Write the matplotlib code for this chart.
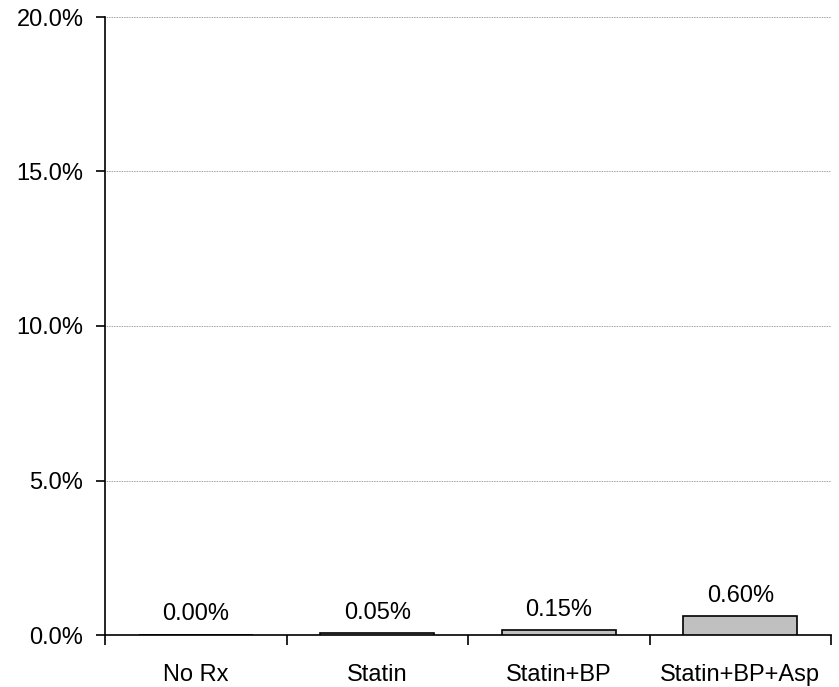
import matplotlib
matplotlib.use("Agg")
import matplotlib.pyplot as plt
from matplotlib.ticker import FixedLocator, NullFormatter

plt.rcParams['font.family'] = ['Liberation Sans', 'DejaVu Sans']

categories = ["No Rx", "Statin", "Statin+BP", "Statin+BP+Asp"]
values = [0.00, 0.05, 0.15, 0.60]
labels = ["0.00%", "0.05%", "0.15%", "0.60%"]
yticks = [0, 5, 10, 15, 20]
ytick_labels = ["0.0%", "5.0%", "10.0%", "15.0%", "20.0%"]

FS = 17

fig = plt.figure(figsize=(8.39, 6.87), dpi=100)
ax = fig.add_axes([105/839, 1-635/687, (831-105)/839, (635-17)/687])

x = list(range(len(categories)))
ax.bar(x, values, width=0.63, color="#c0c0c0", edgecolor="black", linewidth=1.2, zorder=3)
for xi, v, lab in zip(x, values, labels):
    ax.annotate(lab, (xi, v), xytext=(0, 7), textcoords="offset points",
                ha="center", va="bottom", fontsize=FS)

ax.set_xlim(-0.5, 3.5)
ax.set_ylim(0, 20)
ax.set_yticks(yticks)
ax.set_yticklabels(ytick_labels, fontsize=FS)
ax.yaxis.grid(True, color="#808080", linestyle=(0, (1, 1)), linewidth=0.6, zorder=0)
ax.set_axisbelow(True)

ax.xaxis.set_major_locator(FixedLocator([-0.5, 0.5, 1.5, 2.5, 3.5]))
ax.xaxis.set_major_formatter(NullFormatter())
ax.xaxis.set_minor_locator(FixedLocator(x))
ax.set_xticklabels(categories, minor=True, fontsize=FS)
ax.tick_params(axis="x", which="minor", length=0, pad=21)
ax.tick_params(axis="x", which="major", length=7, width=1.2, direction="out")
ax.tick_params(axis="y", length=6.5, width=1.2, direction="out", pad=9)

for s in ["top", "right"]:
    ax.spines[s].set_visible(False)
ax.spines["left"].set_linewidth(1.2)
ax.spines["bottom"].set_linewidth(1.2)

fig.savefig("out.png", dpi=100)
